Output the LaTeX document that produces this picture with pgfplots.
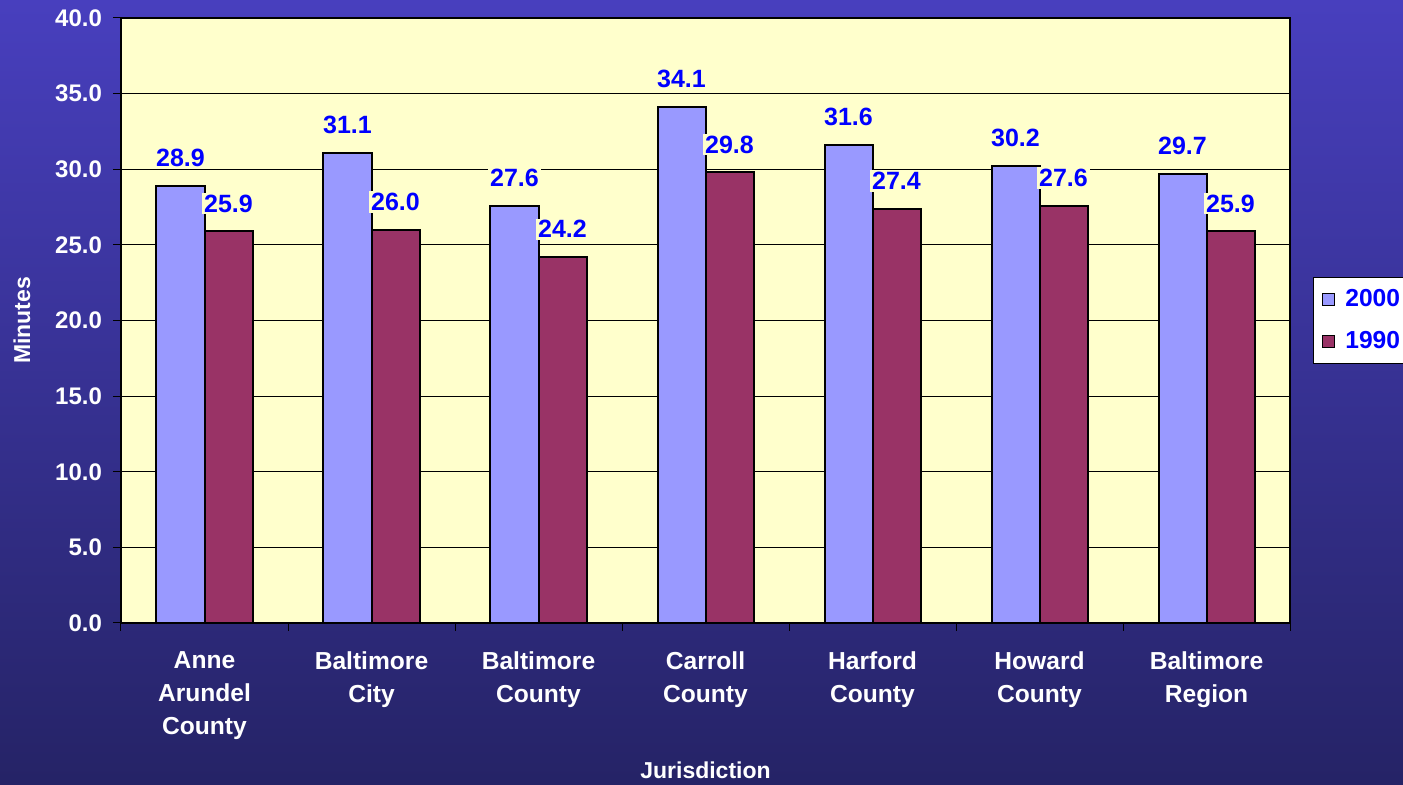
\documentclass[border=0pt]{standalone}
\usepackage{fontspec}
\setmainfont{Liberation Sans}
\usepackage{pgfplots}
\pgfplotsset{compat=1.18}
\definecolor{bgtop}{RGB}{72,63,190}
\definecolor{bgbot}{RGB}{37,35,102}
\definecolor{plotbg}{RGB}{255,255,204}
\definecolor{c2000}{RGB}{153,153,255}
\definecolor{c1990}{RGB}{153,51,102}
\definecolor{lblue}{RGB}{0,0,255}
\begin{document}
\begin{tikzpicture}
\shade[top color=bgtop, bottom color=bgbot] (0,0) rectangle (701.5pt,392.5pt);
\useasboundingbox (0,0) rectangle (701.5pt,392.5pt);
\begin{axis}[
  at={(60.5pt,81pt)}, anchor=south west,
  scale only axis, width=584.5pt, height=302.5pt,
  ymin=0, ymax=40, xmin=-0.5, xmax=6.5,
  axis background/.style={fill=plotbg},
  ybar=0pt, bar width=24pt,
  ytick={0,5,...,40},
  xtick pos=bottom, ytick pos=left,
  ymajorgrids, grid style={black, line width=0.5pt},
  axis line style={black, line width=0.6pt},
  tick style={black, line width=0.5pt},
  tick align=outside,
  major tick length=4pt,
  /pgf/number format/assume math mode=true,
  yticklabel={\pgfmathprintnumber[fixed,fixed zerofill,precision=1]{\tick}},
  yticklabel style={font=\bfseries\fontsize{12}{14}\selectfont, text=white, xshift=-2pt},
  xtick={-0.5,0.5,...,6.5},
  xticklabels={{Anne\\Arundel\\County}, {Baltimore\\City}, {Baltimore\\County}, {Carroll\\County}, {Harford\\County}, {Howard\\County}, {Baltimore\\Region}, {}},
  xticklabel style={font=\bfseries\fontsize{12.3}{16.5}\selectfont, text=white, align=center, xshift=41.75pt, yshift=-7pt},
  xlabel={Jurisdiction},
  ylabel={Minutes},
  xlabel style={font=\bfseries\fontsize{11.5}{14}\selectfont, text=white, at={(axis description cs:0.5,-0.243)}, anchor=center},
  ylabel style={font=\bfseries\fontsize{11.5}{14}\selectfont, text=white, at={(axis description cs:-0.0847,0.5)}, anchor=center},
  nodes near coords={\pgfmathprintnumber[fixed,fixed zerofill,precision=1]{\pgfplotspointmeta}},
  nodes near coords style={font=\bfseries\fontsize{12.5}{14}\selectfont, text=lblue, fill=plotbg, inner xsep=1pt, inner ysep=1pt},
  every node near coord/.append style={yshift=8pt},
  legend style={at={(1.02,0.5)}, anchor=west, draw=black, fill=white, font=\bfseries\fontsize{12.3}{14}\selectfont, text=lblue, inner xsep=4pt, inner ysep=4pt, row sep=7pt, column sep=3pt},
  legend cell align=left,
  legend image code/.code={\draw[#1, draw=black, line width=0.8pt] (0pt,-3pt) rectangle (6pt,3pt);},
]
\addplot[fill=c2000, draw=black, line width=1pt] coordinates {(0,28.9) (1,31.1) (2,27.6) (3,34.1) (4,31.6) (5,30.2) (6,29.7)};
\addplot[fill=c1990, draw=black, line width=1pt] coordinates {(0,25.9) (1,26.0) (2,24.2) (3,29.8) (4,27.4) (5,27.6) (6,25.9)};
\legend{2000,1990}
\end{axis}
\end{tikzpicture}
\end{document}
